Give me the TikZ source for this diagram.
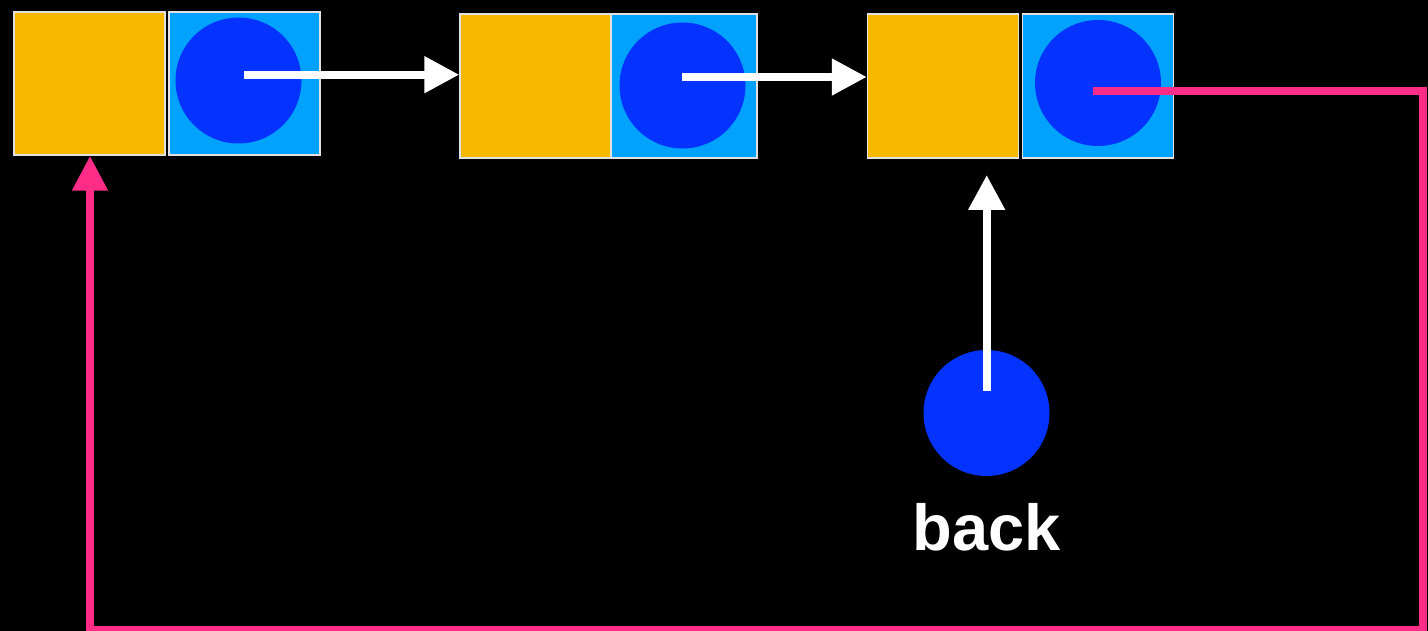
\documentclass[tikz,border=0pt]{standalone}
\usepackage{fontspec}
\setmainfont{Liberation Sans}
\usetikzlibrary{arrows.meta}
\definecolor{cyel}{RGB}{247,185,0}
\definecolor{clblue}{RGB}{0,162,255}
\definecolor{cdblue}{RGB}{4,51,255}
\definecolor{cpink}{RGB}{255,45,135}
\definecolor{cedge}{RGB}{225,225,225}
\begin{document}
\begin{tikzpicture}[x=1pt,y=-1pt,
  databox/.style={rectangle,fill=cyel,draw=cedge,line width=1.5pt,inner sep=0pt,minimum height=143pt,minimum width=151pt},
  ptrbox/.style={rectangle,fill=clblue,draw=cedge,line width=1.5pt,inner sep=0pt,minimum height=143pt,minimum width=151pt},
  ptrdot/.style={circle,fill=cdblue,inner sep=0pt,minimum size=126pt},
  warrow/.style={draw=white,line width=8pt,-{Triangle[length=35pt,width=35pt]}},
  parrow/.style={draw=cpink,line width=8pt,-{Triangle[length=35pt,width=34pt]}}]
\useasboundingbox[fill=black] (0,0) rectangle (1428,631);
% node 1
\node[databox] (d1) at (89.5,83.5) {};
\node[ptrbox] (p1) at (244.5,83.5) {};
\node[ptrdot] (c1) at (238.5,80.5) {};
% node 2
\node[databox,minimum height=144pt] (d2) at (535.5,86) {};
\node[ptrbox,minimum height=144pt,minimum width=146pt] (p2) at (684,86) {};
\node[ptrdot] (c2) at (682.5,85.5) {};
% node 3
\node[databox,minimum height=144pt] (d3) at (943,86) {};
\node[ptrbox,minimum height=144pt] (p3) at (1098,86) {};
\node[ptrdot] (c3) at (1098,83) {};
% back
\node[ptrdot] (cb) at (986.5,413) {};
\node[anchor=base,text=white,font=\fontsize{65}{78}\selectfont\bfseries,inner sep=0pt] (lb) at (987,550) {back};
% coordinates
\coordinate (s1) at (244,74.7);
\coordinate (s2) at (682,77);
\coordinate (s3) at (1093,91);
\coordinate (sb) at (986.7,390.7);
\coordinate (k1) at (1423,91);
\coordinate (k2) at (1423,630);
\coordinate (k3) at (90,630);
% arrows
\draw[warrow] (s1) -- (d2.west |- s1);
\draw[warrow] (s2) -- (d3.west |- s2);
\draw[warrow] (sb) -- (986.7,175);
\draw[parrow] (s3) -- (k1) -- (k2) -- (k3) -- (k3 |- d1.south);
\end{tikzpicture}
\end{document}
